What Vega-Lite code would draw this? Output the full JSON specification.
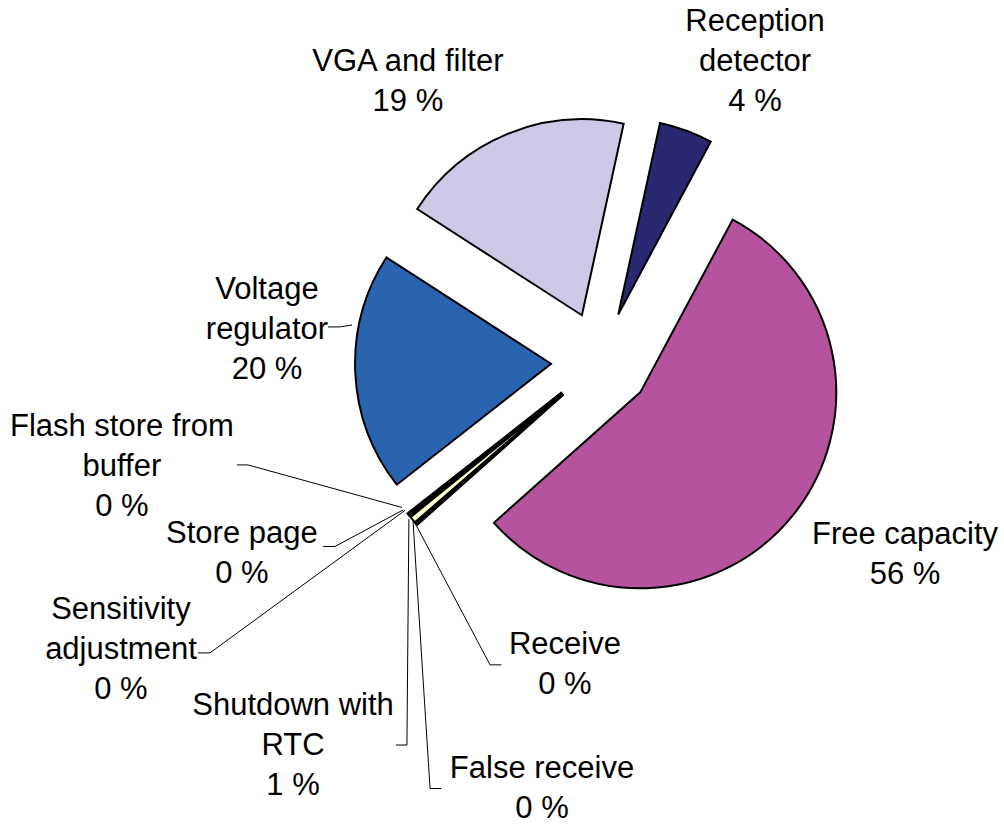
{
  "$schema": "https://vega.github.io/schema/vega-lite/v6.json",
  "width": 1004,
  "height": 825,
  "autosize": "none",
  "padding": 0,
  "background": "white",
  "config": {"view": {"stroke": null}},
  "params": [{"name": "explodeFrac", "value": 0.255}],
  "datasets": {
    "slices": [
      {"idx": 1, "name": "Receive", "value": 0.1},
      {"idx": 2, "name": "False receive", "value": 0.08},
      {"idx": 3, "name": "Shutdown with RTC", "value": 0.55},
      {"idx": 4, "name": "Sensitivity adjustment", "value": 0.09},
      {"idx": 5, "name": "Store page", "value": 0.08},
      {"idx": 6, "name": "Flash store from buffer", "value": 0.1},
      {"idx": 7, "name": "Voltage regulator", "value": 19.7},
      {"idx": 8, "name": "VGA and filter", "value": 19.3},
      {"idx": 9, "name": "Reception detector", "value": 4.4},
      {"idx": 10, "name": "Free capacity", "value": 55.6}
    ],
    "labels": [
      {"name": "Receive", "label": "Receive", "u": -0.184, "v": -1.446},
      {"name": "False receive", "label": "False receive", "u": -0.301, "v": -2.079},
      {"name": "Shutdown with RTC", "label": "Shutdown with\nRTC", "u": -1.571, "v": -1.758},
      {"name": "Sensitivity adjustment", "label": "Sensitivity\nadjustment", "u": -2.449, "v": -1.268},
      {"name": "Store page", "label": "Store page", "u": -1.832, "v": -0.880},
      {"name": "Flash store from buffer", "label": "Flash store from\nbuffer", "u": -2.444, "v": -0.334},
      {"name": "Voltage regulator", "label": "Voltage\nregulator", "u": -1.704, "v": 0.365},
      {"name": "VGA and filter", "label": "VGA and filter", "u": -0.985, "v": 1.528},
      {"name": "Reception detector", "label": "Reception\ndetector", "u": 0.786, "v": 1.732},
      {"name": "Free capacity", "label": "Free capacity", "u": 1.551, "v": -0.885}
    ],
    "leaders": [
      {"name": "Flash store from buffer", "k": 1, "u": -1.857, "v": -0.528},
      {"name": "Flash store from buffer", "k": 2, "u": -1.801, "v": -0.528},
      {"name": "Flash store from buffer", "k": 3, "u": -1.015, "v": -0.745},
      {"name": "Store page", "k": 1, "u": -1.418, "v": -0.944},
      {"name": "Store page", "k": 2, "u": -1.357, "v": -0.944},
      {"name": "Store page", "k": 3, "u": -1.010, "v": -0.758},
      {"name": "Sensitivity adjustment", "k": 1, "u": -2.056, "v": -1.487},
      {"name": "Sensitivity adjustment", "k": 2, "u": -1.995, "v": -1.487},
      {"name": "Sensitivity adjustment", "k": 3, "u": -1.000, "v": -0.760},
      {"name": "Shutdown with RTC", "k": 1, "u": -1.046, "v": -1.957},
      {"name": "Shutdown with RTC", "k": 2, "u": -0.990, "v": -1.957},
      {"name": "Shutdown with RTC", "k": 3, "u": -0.980, "v": -0.804},
      {"name": "False receive", "k": 1, "u": -0.814, "v": -2.179},
      {"name": "False receive", "k": 2, "u": -0.872, "v": -2.179},
      {"name": "False receive", "k": 3, "u": -0.959, "v": -0.816},
      {"name": "Receive", "k": 1, "u": -0.508, "v": -1.548},
      {"name": "Receive", "k": 2, "u": -0.566, "v": -1.548},
      {"name": "Receive", "k": 3, "u": -0.949, "v": -0.824},
      {"name": "Voltage regulator", "k": 1, "u": -1.393, "v": 0.176},
      {"name": "Voltage regulator", "k": 2, "u": -1.332, "v": 0.176},
      {"name": "Voltage regulator", "k": 3, "u": -1.270, "v": 0.186}
    ]
  },
  "layer": [
    {
      "data": {"name": "slices"},
      "transform": [
        {"window": [{"op": "sum", "field": "value", "as": "cum"}], "sort": [{"field": "idx"}], "frame": [null, 0]},
        {"joinaggregate": [{"op": "sum", "field": "value", "as": "total"}]},
        {"calculate": "(datum.cum - datum.value) / datum.total", "as": "f0"},
        {"calculate": "datum.cum / datum.total", "as": "f1"},
        {"calculate": "3.9846 + PI * (datum.f0 + datum.f1)", "as": "mid"},
        {"calculate": "explodeFrac * sin(datum.mid)", "as": "ex"},
        {"calculate": "explodeFrac * cos(datum.mid)", "as": "ey"}
      ],
      "mark": {"type": "arc", "radius": 196, "stroke": "black", "strokeWidth": 2},
      "encoding": {
        "theta": {"field": "f0", "type": "quantitative", "stack": null, "scale": {"domain": [0, 1], "range": [3.9846, 10.2678]}},
        "theta2": {"field": "f1"},
        "x": {"field": "ex", "type": "quantitative", "scale": {"domain": [-3.066, 2.056], "nice": false, "zero": false}, "axis": null},
        "y": {"field": "ey", "type": "quantitative", "scale": {"domain": [-2.365, 1.844], "nice": false, "zero": false}, "axis": null},
        "color": {
          "field": "name",
          "type": "nominal",
          "legend": null,
          "scale": {
            "domain": ["Receive", "False receive", "Shutdown with RTC", "Sensitivity adjustment", "Store page", "Flash store from buffer", "Voltage regulator", "VGA and filter", "Reception detector", "Free capacity"],
            "range": ["#9999FF", "#993366", "#FFFFCC", "#CCFFFF", "#660066", "#FF8080", "#2A63AE", "#CBC9E6", "#2A2870", "#B5539F"]
          }
        }
      }
    },
    {
      "data": {"name": "leaders"},
      "mark": {"type": "line", "stroke": "black", "strokeWidth": 1},
      "encoding": {
        "x": {"field": "u", "type": "quantitative", "scale": {"domain": [-3.066, 2.056], "nice": false, "zero": false}, "axis": null},
        "y": {"field": "v", "type": "quantitative", "scale": {"domain": [-2.365, 1.844], "nice": false, "zero": false}, "axis": null},
        "detail": {"field": "name", "type": "nominal"},
        "order": {"field": "k", "type": "quantitative"}
      }
    },
    {
      "data": {"name": "labels"},
      "transform": [
        {"lookup": "name", "from": {"data": {"name": "slices"}, "key": "name", "fields": ["value"]}},
        {"calculate": "datum.label + '\\n' + round(datum.value) + ' %'", "as": "txt"}
      ],
      "mark": {"type": "text", "font": "Liberation Sans", "fontSize": 31, "lineHeight": 40, "lineBreak": "\n", "align": "center", "baseline": "middle", "color": "black"},
      "encoding": {
        "x": {"field": "u", "type": "quantitative", "scale": {"domain": [-3.066, 2.056], "nice": false, "zero": false}, "axis": null},
        "y": {"field": "v", "type": "quantitative", "scale": {"domain": [-2.365, 1.844], "nice": false, "zero": false}, "axis": null},
        "text": {"field": "txt", "type": "nominal"}
      }
    }
  ]
}
